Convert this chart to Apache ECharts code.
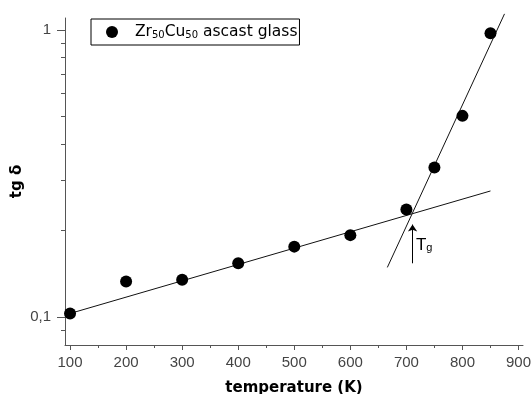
<!DOCTYPE html>
<html>
<head>
<meta charset="utf-8">
<script src="https://cdn.jsdelivr.net/npm/echarts@6/dist/echarts.min.js"></script>
<style>
  html, body { margin: 0; padding: 0; background: #fff; }
  #chart { width: 531px; height: 394px; }
</style>
</head>
<body>
<div id="chart"></div>
<script>
// measured points (temperature K, tg delta)
var temps = [100, 200, 300, 400, 500, 600, 700, 750, 800, 850];
var tgd = [0.103, 0.133, 0.135, 0.154, 0.176, 0.193, 0.237, 0.332, 0.502, 0.974];

// the two fitted lines, end points
var lowFit = [[100, 0.103], [850, 0.275]];
var highFit = [[666, 0.149], [875, 1.137]];

// Tg arrow and its label
var tgArrow = [[711, 0.154], [711, 0.21]];
var tgLabelAt = [717, 0.178];

// ticks
var xMajor = [100, 200, 300, 400, 500, 600, 700, 800, 900];
var xMinor = [150, 250, 350, 450, 550, 650, 750, 850];
var yMajor = [0.1, 1];
var yMinor = [0.09, 0.2, 0.3, 0.4, 0.5, 0.6, 0.7, 0.8, 0.9];

var chart = echarts.init(document.getElementById('chart'));

var pts = temps.map(function (t, i) { return [t, tgd[i]]; });
var axisCol = '#555';

var option = {
  animation: false,
  grid: { left: 65, right: 8, top: 18, bottom: 49, outerBoundsMode: 'none', containLabel: false },
  legend: {
    left: 91,
    top: 19,
    orient: 'horizontal',
    data: [{ name: 'Zr50Cu50 ascast glass', icon: 'circle', itemStyle: { color: '#000', opacity: 1 } }],
    itemWidth: 12,
    itemHeight: 12,
    borderColor: '#000',
    borderWidth: 1,
    borderRadius: 0,
    padding: [5, 2, 5, 15],
    formatter: function () {
      return '{f|Zr}{s|50}{n|Cu}{s|50}{n| ascast glass}';
    },
    textStyle: {
      rich: {
        f: { fontFamily: 'DejaVu Sans', fontSize: 15.5, color: '#000', lineHeight: 16, verticalAlign: 'bottom', padding: [0, 0, 0, 12] },
        n: { fontFamily: 'DejaVu Sans', fontSize: 15.5, color: '#000', lineHeight: 16, verticalAlign: 'bottom' },
        s: { fontFamily: 'DejaVu Sans', fontSize: 10, color: '#000', lineHeight: 10, verticalAlign: 'bottom' }
      }
    }
  },
  xAxis: [
    {
      type: 'value',
      min: 91,
      max: 908,
      name: 'temperature (K)',
      nameLocation: 'middle',
      nameGap: 36,
      nameMoveOverlap: false,
      nameTextStyle: { fontFamily: 'DejaVu Sans', fontWeight: 'bold', fontSize: 15, color: '#000' },
      axisLine: { lineStyle: { color: axisCol } },
      axisTick: { customValues: xMajor, length: 5, lineStyle: { color: axisCol } },
      axisLabel: {
        customValues: xMajor,
        margin: 10,
        fontFamily: 'Liberation Sans',
        fontSize: 15,
        color: '#444'
      },
      splitLine: { show: false }
    },
    {
      type: 'value',
      min: 91,
      max: 908,
      position: 'bottom',
      axisLine: { show: false },
      axisTick: { customValues: xMinor, length: 3, lineStyle: { color: axisCol } },
      axisLabel: { show: false },
      splitLine: { show: false }
    }
  ],
  yAxis: [
    {
      type: 'log',
      logBase: 10,
      min: 0.08,
      max: 1.1,
      name: 'tg δ',
      nameLocation: 'middle',
      nameRotate: 90,
      nameGap: 40,
      nameMoveOverlap: false,
      nameTextStyle: { fontFamily: 'DejaVu Sans', fontWeight: 'bold', fontSize: 15, color: '#000' },
      axisLine: { show: true, lineStyle: { color: axisCol } },
      axisTick: { show: true, customValues: yMajor, length: 8, lineStyle: { color: axisCol } },
      axisLabel: {
        customValues: yMajor,
        margin: 14,
        fontFamily: 'Liberation Sans',
        fontSize: 15,
        color: '#444',
        formatter: function (v) { return String(+(+v).toPrecision(3)).replace('.', ','); }
      },
      splitLine: { show: false }
    },
    {
      type: 'log',
      logBase: 10,
      min: 0.08,
      max: 1.1,
      position: 'left',
      axisLine: { show: false },
      axisTick: { show: true, customValues: yMinor, length: 4, lineStyle: { color: axisCol } },
      axisLabel: { show: false },
      splitLine: { show: false }
    }
  ],
  series: [
    {
      name: 'low fit',
      type: 'line',
      data: lowFit,
      symbol: 'none',
      lineStyle: { color: '#111', width: 1 },
      z: 2,
      markLine: {
        silent: true,
        symbol: ['none', 'arrow'],
        symbolSize: 7,
        lineStyle: { color: '#000', width: 1, type: 'solid' },
        label: { show: false },
        data: [[{ coord: tgArrow[0] }, { coord: tgArrow[1] }]]
      },
      markPoint: {
        silent: true,
        symbol: 'circle',
        symbolSize: 0,
        data: [{ coord: tgLabelAt }],
        label: {
          show: true,
          position: 'right',
          distance: 0,
          formatter: '{t|T}{g|g}',
          rich: {
            t: { fontFamily: 'Liberation Sans', fontSize: 17, color: '#000', lineHeight: 17, verticalAlign: 'bottom' },
            g: { fontFamily: 'Liberation Sans', fontSize: 11, color: '#000', lineHeight: 11, verticalAlign: 'bottom' }
          }
        }
      }
    },
    {
      name: 'high fit',
      type: 'line',
      data: highFit,
      symbol: 'none',
      clip: false,
      lineStyle: { color: '#111', width: 1 },
      z: 2
    },
    {
      name: 'Zr50Cu50 ascast glass',
      type: 'scatter',
      data: pts,
      symbol: 'circle',
      symbolSize: 12,
      itemStyle: { color: '#000', opacity: 1 },
      z: 3
    }
  ]
};

chart.setOption(option);
</script>
</body>
</html>
